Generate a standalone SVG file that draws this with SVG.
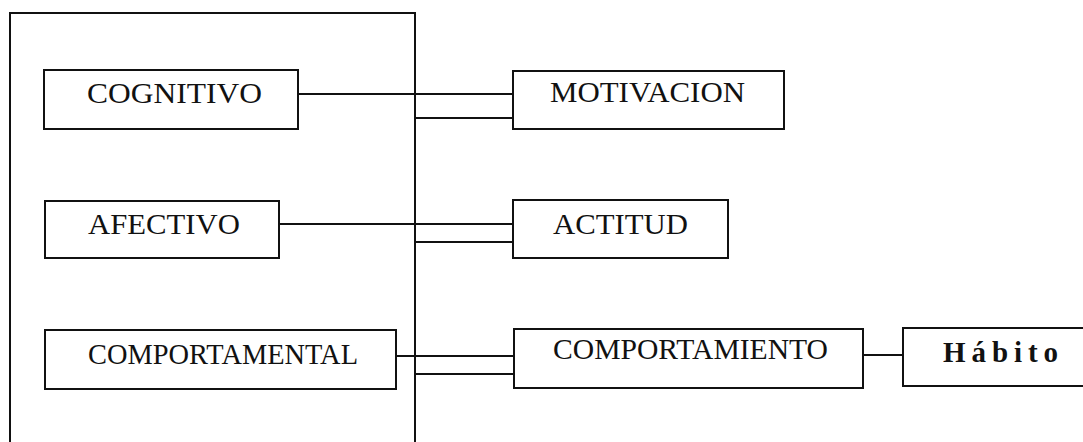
<svg xmlns="http://www.w3.org/2000/svg" width="1083" height="442" viewBox="0 0 1083 442">
  <style>
    .box { fill: #ffffff; stroke: #111111; stroke-width: 2; }
    .frame { fill: none; stroke: #111111; stroke-width: 2; }
    .link { fill: none; stroke: #111111; stroke-width: 2; }
    .label { font-family: "Liberation Serif", "Times New Roman", serif; font-size: 29px; fill: #111111; }
    .mono { font-family: "Liberation Serif", "Times New Roman", serif; font-size: 29px; font-weight: bold; fill: #111111; }
  </style>
  <rect width="1083" height="442" fill="#ffffff"/>

  <!-- open frame around the three components -->
  <g id="frame">
    <path class="frame" d="M10,442 V13 H415 V442"/>
  </g>

  <g id="connectors">
    <path class="link" d="M298,94 H513"/>
    <path class="link" d="M415,118 H513"/>
    <path class="link" d="M279,224 H513"/>
    <path class="link" d="M415,242 H513"/>
    <path class="link" d="M396,356 H514"/>
    <path class="link" d="M415,374 H514"/>
    <path class="link" d="M863,355 H903"/>
  </g>

  <g id="cognitivo">
    <rect class="box" x="44" y="70" width="254" height="59"/>
    <text class="label" x="87" y="103" textLength="175" lengthAdjust="spacingAndGlyphs">COGNITIVO</text>
  </g>
  <g id="afectivo">
    <rect class="box" x="45" y="201" width="234" height="57"/>
    <text class="label" x="88" y="234" textLength="152" lengthAdjust="spacingAndGlyphs">AFECTIVO</text>
  </g>
  <g id="comportamental">
    <rect class="box" x="45" y="330" width="351" height="59"/>
    <text class="label" x="88" y="364" textLength="270" lengthAdjust="spacingAndGlyphs">COMPORTAMENTAL</text>
  </g>
  <g id="motivacion">
    <rect class="box" x="513" y="71" width="271" height="58"/>
    <text class="label" x="550" y="102" textLength="195" lengthAdjust="spacingAndGlyphs">MOTIVACION</text>
  </g>
  <g id="actitud">
    <rect class="box" x="513" y="200" width="215" height="58"/>
    <text class="label" x="553" y="234" textLength="135" lengthAdjust="spacingAndGlyphs">ACTITUD</text>
  </g>
  <g id="comportamiento">
    <rect class="box" x="514" y="329" width="349" height="59"/>
    <text class="label" x="553" y="359" textLength="275" lengthAdjust="spacingAndGlyphs">COMPORTAMIENTO</text>
  </g>
  <g id="habito">
    <rect class="box" x="903" y="328" width="200" height="58"/>
    <text class="mono" x="943" y="362" textLength="115" lengthAdjust="spacing">Hábito</text>
  </g>
</svg>
